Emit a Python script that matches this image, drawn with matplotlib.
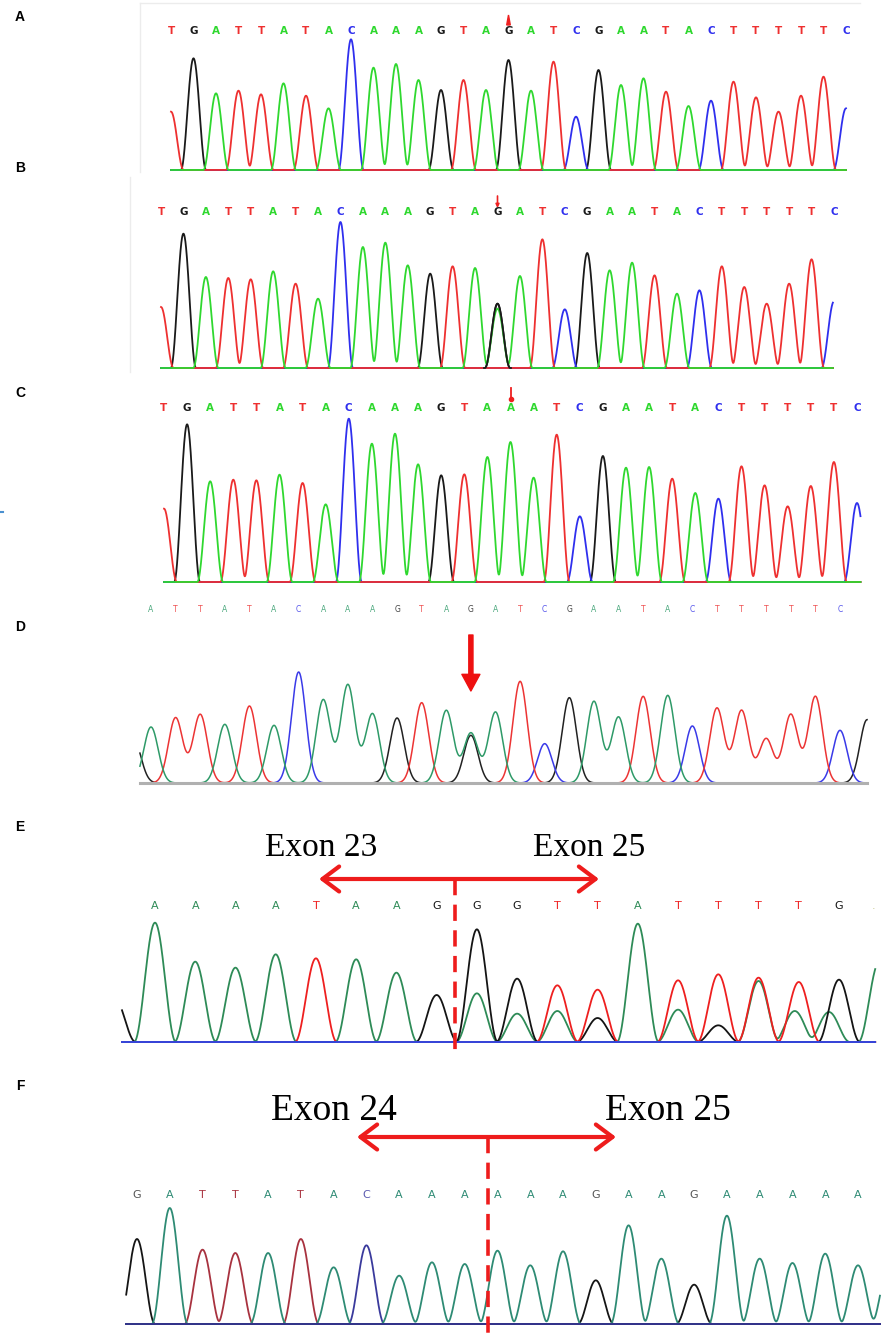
import numpy as np
import matplotlib
matplotlib.use('Agg')
import matplotlib.pyplot as plt
from matplotlib.lines import Line2D

W, H = 890, 1339
UNITS_PER_PX = 3.0

# ---- A: control, B: heterozygous G/A, C: homozygous A (genomic) ----
seq_a = 'TGATTATACAAAGTAGATCGAATACTTTTTC'
peaks_a = [175, 335, 230, 238, 227, 260, 223, 185, 392, 307, 318, 270, 240, 270, 240,
           330, 238, 325, 160, 300, 255, 275, 235, 192, 208, 265, 218, 175, 223, 280, 185]
extra_a = []

seq_b = 'TGATTATACAAAGTAGATCGAATACTTTTTC'
peaks_b = [183, 403, 273, 270, 266, 290, 253, 208, 438, 363, 376, 308, 283, 305, 300,
           193, 276, 386, 176, 345, 293, 316, 278, 223, 233, 305, 243, 193, 253, 326, 200]
extra_b = [(15, 'A', 178)]

seq_c = 'TGATTATACAAAGTAAATCGAATACTTTTTC'
peaks_c = [220, 473, 302, 307, 305, 322, 297, 233, 490, 415, 445, 353, 320, 323, 375,
           420, 313, 442, 197, 378, 343, 345, 310, 267, 250, 347, 290, 227, 288, 360, 237]
extra_c = []

# ---- D: second family member ----
seq_d = 'ATTATACAAAGTAGATCGAATACTTTTTC'
peaks_d = [168, 196, 206, 176, 231, 173, 333, 250, 295, 208, 195, 241, 218, 143, 213,
           305, 118, 256, 245, 198, 260, 263, 171, 225, 218, 133, 206, 260, 158]
extra_d = [(13, 'A', 150), (-0.7, 'G', 130), (29.1, 'G', 190)]

# ---- E / F: cDNA, exon junctions ----
seq_e = 'AAAATAAGGGTTATTTTG'
peaks_e = [358, 241, 223, 263, 251, 248, 208, 141, 338, 190, 170, 157, 355, 185, 203,
           193, 180, 187]
extra_e = [(8, 'A', 146), (9, 'A', 85), (10, 'A', 93), (11, 'G', 72), (13, 'A', 97),
           (14, 'G', 50), (15, 'A', 183), (15.9, 'A', 93), (16.75, 'A', 90),
           (-1.0, 'G', 130), (18.0, 'A', 240)]

seq_f = 'GATTATACAAAAAAGAAGAAAAA'
peaks_f = [255, 348, 223, 213, 213, 255, 170, 236, 145, 185, 180, 220, 176, 218, 131,
           296, 196, 118, 325, 196, 183, 211, 176]
extra_f = [(22.95, 'A', 175)]

bright = {'A': '#2fd82f', 'T': '#ee3030', 'C': '#2f2fee', 'G': '#1a1a1a'}
dull = {'A': '#2e9a68', 'T': '#ec3434', 'C': '#3a3ae8', 'G': '#222222'}
sea = {'A': '#2e8b57', 'T': '#ee1f1f', 'C': '#3333cc', 'G': '#141414'}
teal = {'A': '#2e8b74', 'T': '#a8323f', 'C': '#3a3a9c', 'G': '#151515'}


def peak_shape(d, width, kind):
    if kind == 'gauss':
        return np.exp(-d ** 2 / (2 * width ** 2))
    # raised cosine: pointed-ish peak that drops to the baseline within +-width
    return np.where(np.abs(d) < width, np.cos(np.pi * d / (2 * width)) ** 2, 0.0)


class Panel:
    def __init__(self, fig, seq, x_first, x_last, baseline):
        self.seq = seq
        self.base = baseline
        s = (x_last - x_first) / (len(seq) - 1)
        self.ax = fig.add_axes([0, 0, 1, 1])
        self.ax.set_xlim(-x_first / s, (W - x_first) / s)
        self.ax.set_ylim((baseline - H) * UNITS_PER_PX, baseline * UNITS_PER_PX)
        self.ax.axis('off')

    def vy(self, py):
        return (self.base - py) * UNITS_PER_PX

    def traces(self, heights, extra, start, end, width, colors, lw, order='GCTA',
               kind='cos'):
        x = np.linspace(start, end, 3000)
        peaks = [(i, b, h) for i, (b, h) in enumerate(zip(self.seq, heights))] + list(extra)
        for base in order:
            y = np.zeros_like(x)
            for pos, b, h in peaks:
                if b == base:
                    y += h * peak_shape(x - pos, width, kind)
            self.ax.plot(x, y, color=colors[base], lw=lw, solid_joinstyle='round')
        return x

    def letters(self, py, colors, size, weight='normal', alpha=1.0):
        for i, b in enumerate(self.seq):
            self.ax.text(i, self.vy(py), b, color=colors[b], fontsize=size,
                         fontweight=weight, ha='center', va='center', alpha=alpha,
                         family='DejaVu Sans')

    def junction(self, x_left, x_right, x_split, arrow_py, bottom_py, labels, label_py,
                 label_x, fsize):
        ax = self.ax
        ax.annotate('', xy=(x_left, self.vy(arrow_py)), xytext=(x_right, self.vy(arrow_py)),
                    arrowprops=dict(arrowstyle='<->,head_length=0.6,head_width=0.45',
                                    color='#ee1c1c', lw=3.0, mutation_scale=20,
                                    shrinkA=0, shrinkB=0))
        ax.plot([x_split, x_split], [self.vy(arrow_py), self.vy(bottom_py)],
                color='#ee1c1c', lw=2.6, linestyle=(0, (4.5, 2.6)))
        for lx, txt in zip(label_x, labels):
            ax.text(lx, self.vy(label_py), txt, fontsize=fsize, ha='center', va='center',
                    family='Liberation Serif', color='black')


fig = plt.figure(figsize=(W / 100, H / 100), dpi=100)
fig.patch.set_facecolor('white')

# faint frames left over from the screenshots
fig.add_artist(Line2D([140 / W, 860 / W], [1 - 3 / H] * 2, color='#ececec', lw=1))
fig.add_artist(Line2D([140 / W] * 2, [1 - 3 / H, 1 - 172 / H], color='#ececec', lw=1))
fig.add_artist(Line2D([130 / W] * 2, [1 - 177 / H, 1 - 372 / H], color='#ececec', lw=1))
fig.add_artist(Line2D([0, 3 / W], [1 - 512 / H] * 2, color='#4a90d0', lw=1.5))

# A
pa = Panel(fig, seq_a, 171, 846, 170)
pa.traces(peaks_a, extra_a, 0, 30, 0.56, bright, 1.3)
pa.letters(31, bright, 7.5, 'bold')
pa.ax.fill([15 - 0.08, 15 + 0.08, 15], [pa.vy(25), pa.vy(25), pa.vy(15)], color='#ee2020')

# B
pb = Panel(fig, seq_b, 161, 834, 368)
xb = pb.traces(peaks_b, extra_b, 0, 29.95, 0.56, bright, 1.3, order='GCTA')
mut = (xb > 14.4) & (xb < 15.6)
pb.ax.plot(xb[mut], peaks_b[15] * peak_shape(xb[mut] - 15, 0.56, 'cos'),
           color=bright['G'], lw=1.3)
pb.letters(212, bright, 7.5, 'bold')
pb.ax.annotate('', xy=(15, pb.vy(208)), xytext=(15, pb.vy(196)),
               arrowprops=dict(arrowstyle='-|>', color='#ee2020', lw=1.2,
                               mutation_scale=5, shrinkA=0, shrinkB=0))

# C
pc = Panel(fig, seq_c, 164, 857, 582)
pc.traces(peaks_c, extra_c, 0, 30.15, 0.56, bright, 1.3)
pc.letters(408, bright, 7.5, 'bold')
pc.ax.plot([15, 15], [pc.vy(388), pc.vy(398)], color='#ee2020', lw=1.3)
pc.ax.plot([15], [pc.vy(399)], 'o', color='#ee2020', ms=3)

# D
pd_ = Panel(fig, seq_d, 151, 840, 783)
pd_.traces(peaks_d, extra_d, -0.45, 29.1, 0.29, dull, 1.1, kind='gauss')
pd_.ax.plot([-0.45, 29.1], [0, 0], color='#b0b0b0', lw=2.2, zorder=3)
pd_.letters(609, dull, 5.5, alpha=0.85)
pd_.ax.annotate('', xy=(13, pd_.vy(691)), xytext=(13, pd_.vy(635)),
                arrowprops=dict(arrowstyle='simple,head_length=1.2,head_width=1.3,tail_width=0.3',
                                color='#ee1010', mutation_scale=10, shrinkA=0, shrinkB=0))

# E
pe = Panel(fig, seq_e, 155, 839, 1042)
pe.traces(peaks_e, extra_e, -0.82, 17.9, 0.52, sea, 1.3, order='AGT')
pe.ax.plot([-0.82, 17.9], [0, 0], color='#3346dd', lw=1.4)
pe.letters(906, sea, 8)
pe.ax.text(17.85, pe.vy(906), '.', color='#c8c890', fontsize=8, ha='center', va='center')
s_e = (839 - 155) / 17
pe.junction((319 - 155) / s_e, (599 - 155) / s_e, 7.45, 879, 1050,
            ['Exon 23', 'Exon 25'], 848, [(321 - 155) / s_e, (589 - 155) / s_e], 24)

# F
pf = Panel(fig, seq_f, 137, 858, 1324)
pf.traces(peaks_f, extra_f, -0.33, 22.67, 0.55, teal, 1.3, order='GTCA')
pf.ax.plot([-0.33, 22.67], [0, 0], color='#33338a', lw=1.4)
pf.letters(1195, {'A': '#2e8b74', 'T': '#a8323f', 'C': '#5a5ab0', 'G': '#555555'}, 8)
s_f = (858 - 137) / 22
pf.junction((357 - 137) / s_f, (616 - 137) / s_f, (488 - 137) / s_f, 1137, 1336,
            ['Exon 24', 'Exon 25'], 1111, [(334 - 137) / s_f, (668 - 137) / s_f], 27)

for lab, py in zip('ABCDEF', [17, 168, 393, 627, 827, 1086]):
    fig.text(20 / W, 1 - py / H, lab, fontsize=10, fontweight='bold', ha='center',
             va='center', family='Liberation Sans')

fig.savefig('out.png', dpi=100)
